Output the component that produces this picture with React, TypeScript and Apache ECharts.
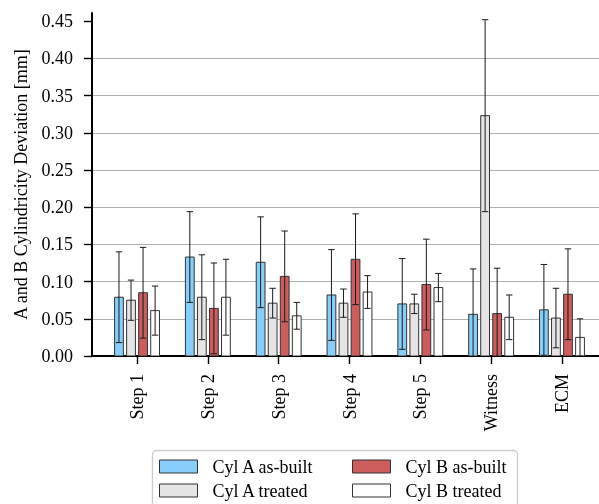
import React, { useEffect, useRef } from "react";
import * as echarts from "echarts";

const categories = ["Step 1", "Step 2", "Step 3", "Step 4", "Step 5", "Witness", "ECM"];
const yTicks = [0, 0.05, 0.1, 0.15, 0.2, 0.25, 0.3, 0.35, 0.4, 0.45];

const seriesNames = ["Cyl A as-built", "Cyl A treated", "Cyl B as-built", "Cyl B treated"];
const seriesColors = ["#87CEFA", "#E5E5E5", "#CD5C5C", "#FFFFFF"];

const aBuiltMean = [0.079, 0.133, 0.126, 0.082, 0.070, 0.056, 0.062];
const aBuiltErr = [0.061, 0.061, 0.061, 0.061, 0.061, 0.061, 0.061];
const aTreatedMean = [0.075, 0.079, 0.071, 0.071, 0.070, 0.323, 0.051];
const aTreatedErr = [0.027, 0.057, 0.020, 0.019, 0.013, 0.129, 0.040];
const bBuiltMean = [0.085, 0.064, 0.107, 0.130, 0.096, 0.057, 0.083];
const bBuiltErr = [0.061, 0.061, 0.061, 0.061, 0.061, 0.061, 0.061];
const bTreatedMean = [0.061, 0.079, 0.054, 0.086, 0.092, 0.052, 0.025];
const bTreatedErr = [0.033, 0.051, 0.018, 0.022, 0.019, 0.030, 0.025];

const means = [aBuiltMean, aTreatedMean, bBuiltMean, bTreatedMean];
const errs = [aBuiltErr, aTreatedErr, bBuiltErr, bTreatedErr];
const offsets = [-0.255, -0.085, 0.085, 0.255];
const BAR_W = 0.124;

const FONT = "'Liberation Serif', 'Times New Roman', serif";
const FS = 18;

export default function App() {
  const ref = useRef<HTMLDivElement>(null);
  useEffect(() => {
    if (!ref.current) return;
    const chart = echarts.init(ref.current, null, { renderer: "svg" });

    const series = seriesNames.map((name, s) => ({
      type: "custom",
      name,
      clip: true,
      itemStyle: { color: seriesColors[s], borderColor: "#333", borderWidth: 1 },
      encode: { x: 0, y: 1 },
      data: categories.map((_, i) => [i, means[s][i], errs[s][i]]),
      renderItem: (params: any, api: any) => {
        const xi = api.value(0) as number;
        const m = api.value(1) as number;
        const e = api.value(2) as number;
        const x = xi + offsets[s];
        const tl = api.coord([x - BAR_W / 2, m]);
        const br = api.coord([x + BAR_W / 2, 0]);
        const lowVal = m - e;
        const hi = api.coord([x, m + e]);
        const lo = api.coord([x, Math.max(lowVal, 0)]);
        const cap = 3.2;
        const lineStyle = { stroke: "#1a1a1a", lineWidth: 1 };
        const children: any[] = [
          {
            type: "rect",
            shape: { x: tl[0], y: tl[1], width: br[0] - tl[0], height: br[1] - tl[1] },
            style: { fill: seriesColors[s], stroke: "#333", lineWidth: 1 },
          },
          { type: "line", shape: { x1: hi[0], y1: hi[1], x2: lo[0], y2: lo[1] }, style: lineStyle },
          { type: "line", shape: { x1: hi[0] - cap, y1: hi[1], x2: hi[0] + cap, y2: hi[1] }, style: lineStyle },
        ];
        if (lowVal >= 0) {
          children.push({
            type: "line",
            shape: { x1: lo[0] - cap, y1: lo[1], x2: lo[0] + cap, y2: lo[1] },
            style: lineStyle,
          });
        }
        return { type: "group", children };
      },
    }));

    const legendCommon = {
      orient: "vertical",
      top: 457.5,
      itemWidth: 38,
      itemHeight: 13,
      itemGap: 6,
      padding: 0,
      icon: "rect",
      textStyle: { fontFamily: FONT, fontSize: FS, color: "#000", padding: [0, 0, 0, 10] },
    };

    chart.setOption({
      animation: false,
      grid: { left: 92, right: 0, top: 13, bottom: 148, containLabel: false },
      xAxis: {
        type: "value",
        min: -0.636,
        max: 6.523,
        splitLine: { show: false },
        axisLine: { show: true, onZero: false, lineStyle: { color: "#000", width: 2 } },
        axisTick: {
          show: true,
          customValues: categories.map((_, i) => i),
          length: 8,
          lineStyle: { color: "#000", width: 1.4 },
        },
        axisLabel: {
          customValues: categories.map((_, i) => i),
          formatter: (v: number) => categories[Math.round(v)] ?? "",
          rotate: 90,
          margin: 18,
          fontFamily: FONT,
          fontSize: FS,
          color: "#000",
        },
      },
      yAxis: {
        type: "value",
        min: 0,
        max: 0.461,
        name: "A and B Cylindricity Deviation [mm]",
        nameLocation: "middle",
        nameGap: 62,
        nameTextStyle: { fontFamily: FONT, fontSize: FS, color: "#000" },
        axisLine: { show: true, onZero: false, lineStyle: { color: "#000", width: 2 } },
        axisTick: {
          show: true,
          customValues: yTicks,
          length: 8,
          lineStyle: { color: "#000", width: 1.4 },
        },
        axisLabel: {
          customValues: yTicks,
          formatter: (v: number) => v.toFixed(2),
          margin: 19,
          fontFamily: FONT,
          fontSize: FS,
          color: "#000",
        },
        splitLine: {
          show: true,
          showMinLine: false,
          showMaxLine: false,
          lineStyle: { color: "#b0b0b0", width: 1 },
        },
      },
      legend: [
        {
          ...legendCommon,
          left: 159,
          data: [
            { name: seriesNames[0], itemStyle: { color: seriesColors[0], borderColor: "#333", borderWidth: 1 } },
            { name: seriesNames[1], itemStyle: { color: seriesColors[1], borderColor: "#333", borderWidth: 1 } },
          ],
        },
        {
          ...legendCommon,
          left: 352,
          data: [
            { name: seriesNames[2], itemStyle: { color: seriesColors[2], borderColor: "#333", borderWidth: 1 } },
            { name: seriesNames[3], itemStyle: { color: seriesColors[3], borderColor: "#333", borderWidth: 1 } },
          ],
        },
      ],
      graphic: [
        {
          type: "rect",
          z: -1,
          shape: { x: 152.5, y: 450.5, width: 365, height: 70, r: 4 },
          style: { fill: "#fff", stroke: "#cccccc", lineWidth: 1.3 },
        },
      ],
      series,
    } as any);

    return () => chart.dispose();
  }, []);

  return <div ref={ref} style={{ position: "fixed", left: 0, top: 0, width: 599, height: 504 }} />;
}
